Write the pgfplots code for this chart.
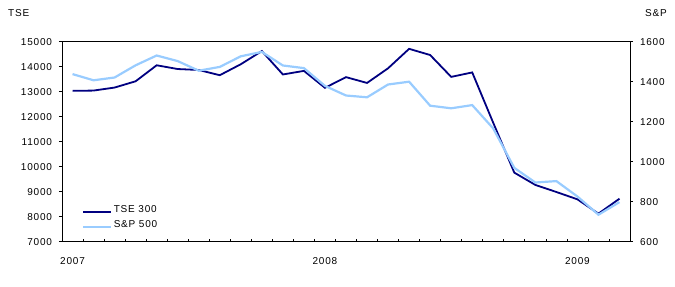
\documentclass[border=0pt]{standalone}
\usepackage{fontspec}
\setmainfont{Liberation Sans}[LetterSpace=8]
\usepackage{pgfplots}
\pgfplotsset{compat=1.18}
\definecolor{tsecol}{RGB}{0,0,128}
\definecolor{spcol}{RGB}{153,204,255}
\pgfplotstableread{
m tse sp
0 13034 1438
1 13045 1407
2 13166 1421
3 13417 1482
4 14057 1531
5 13907 1503
6 13869 1455
7 13660 1474
8 14099 1527
9 14625 1549
10 13689 1481
11 13833 1468
12 13155 1379
13 13583 1331
14 13350 1322
15 13937 1386
16 14715 1400
17 14467 1280
18 13593 1267
19 13771 1283
20 11753 1166
21 9763 969
22 9271 896
23 8988 903
24 8695 826
25 8123 735
26 8720 798
}\datatable
\begin{document}
\begin{tikzpicture}[font=\fontsize{10bp}{12bp}\selectfont]
\useasboundingbox (0,0) rectangle (675bp,287bp);
\pgfplotsset{
  base/.style={
    at={(62bp,45.3bp)}, anchor=south west,
    width=568bp, height=200bp, scale only axis,
    xmin=-0.5, xmax=26.5,
    scaled y ticks=false,
    /pgf/number format/assume math mode=true,
    /pgf/number format/1000 sep={},
    axis line style={line width=0.8bp, black},
    tick style={line width=0.7bp, black},
    major tick length=3bp,
  }
}
\begin{axis}[base,
  ymin=7000, ymax=15000, ytick={7000,8000,...,15000},
  axis y line*=left,
  axis x line*=bottom,
  ytick pos=left, yticklabel pos=left,
  y tick style={/pgfplots/tick align=outside},
  yticklabel style={anchor=east, xshift=-6.5bp},
  xtick={0.5,1.5,...,25.5}, xticklabels={},
  x tick style={/pgfplots/tick align=inside},
  xtick pos=bottom,
  extra x ticks={0,12,24}, extra x tick labels={2007,2008,2009},
  extra x tick style={major tick length=0bp,
    xticklabel style={anchor=north, yshift=-12bp}},
  legend style={draw=none, fill=none, at={(rel axis cs:0.035,0.045)}, anchor=south west,
    row sep=0bp, inner sep=0bp,
    nodes={inner sep=1.5bp, text height=8bp, text depth=4bp, anchor=base west}},
  legend cell align=left,
  legend image code/.code={\draw[#1] (0bp,0.3bp) -- (28bp,0.3bp);},
]
\addplot[tsecol, line width=1.8bp] table[x=m, y=tse] {\datatable};
\addlegendentry{TSE 300}
\addlegendimage{spcol, line width=2.2bp}
\addlegendentry{S\&P 500}
\end{axis}
\begin{axis}[base,
  ymin=600, ymax=1600, ytick={600,800,...,1600},
  axis y line*=right,
  axis x line*=top,
  xtick=\empty,
  ytick pos=right, yticklabel pos=right,
  y tick style={/pgfplots/tick align=outside},
  yticklabel style={anchor=west, xshift=6.5bp},
]
\addplot[spcol, line width=2.2bp] table[x=m, y=sp] {\datatable};
\end{axis}
\node[anchor=base west, inner sep=0] at (8bp,270bp) {TSE};
\node[anchor=base west, inner sep=0] at (645bp,270bp) {S\&P};
\end{tikzpicture}
\end{document}
